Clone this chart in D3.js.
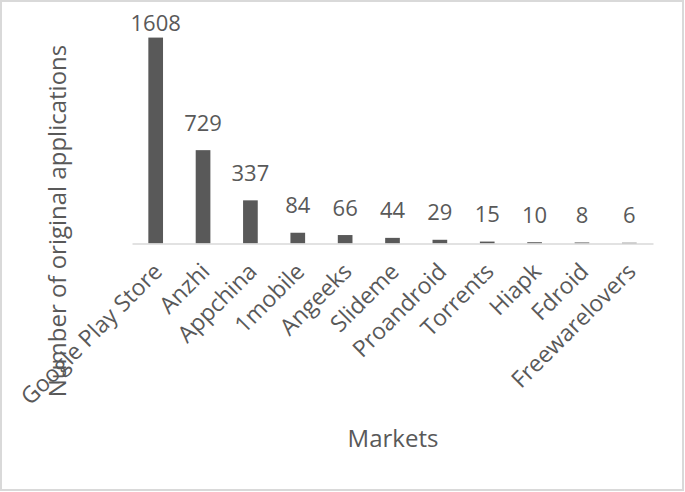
<!DOCTYPE html>
<html>
<head>
<meta charset="utf-8">
<script src="https://cdn.jsdelivr.net/npm/d3@7"></script>
<style>
html,body{margin:0;padding:0;background:#fff;}
svg{display:block;}
text{font-family:"Open Sans",sans-serif;fill:#595959;}
</style>
</head>
<body>
<svg id="chart" width="685" height="492"></svg>
<script>
const categories = ["Google Play Store","Anzhi","Appchina","1mobile","Angeeks","Slideme","Proandroid","Torrents","Hiapk","Fdroid","Freewarelovers"];
const values = [1608,729,337,84,66,44,29,15,10,8,6];
const yDomain = [0,1800];
const xTitle = "Markets";
const yTitle = "Number of original applications";

const svg = d3.select("#chart");
const W = 685, H = 492;

svg.append("rect").attr("x",1).attr("y",1).attr("width",W-3).attr("height",H-3)
  .attr("fill","#fff").attr("stroke","#d9d9d9").attr("stroke-width",2);

const x = d3.scaleBand().domain(categories).range([132,653]).paddingInner(0.69).paddingOuter(0.345);
const y = d3.scaleLinear().domain(yDomain).range([243.5,13]);

const g = svg.append("g");
g.selectAll("rect.bar").data(values).enter().append("rect")
  .attr("class","bar")
  .attr("x",(d,i)=>x(categories[i]))
  .attr("width",x.bandwidth())
  .attr("y",d=>y(d))
  .attr("height",d=>y(0)-y(d))
  .attr("fill","#595959");

const xAxis = d3.axisBottom(x).tickSize(0).tickFormat("");
const ax = svg.append("g").attr("transform",`translate(0,${y(0)})`).call(xAxis);
ax.select(".domain").attr("stroke","#d9d9d9").attr("stroke-width",1.5);

categories.forEach((c,i)=>{
  const cx = x(c)+x.bandwidth()/2;
  svg.append("text")
    .attr("transform",`translate(${cx+8},${273}) rotate(-45)`)
    .attr("text-anchor","end")
    .attr("font-size",23)
    .text(c);
});

g.selectAll("text.val").data(values).enter().append("text")
  .attr("class","val")
  .attr("x",(d,i)=>x(categories[i])+x.bandwidth()/2)
  .attr("y",d=>Math.max(y(d)-19.5,31))
  .attr("text-anchor","middle")
  .attr("font-size",22)
  .text(d=>d);

svg.append("text").attr("x",393).attr("y",447).attr("text-anchor","middle")
  .attr("font-size",24).text(xTitle);

svg.append("text").attr("transform","translate(65.5,221) rotate(-90)")
  .attr("text-anchor","middle").attr("font-size",24).text(yTitle);
</script>
</body>
</html>
